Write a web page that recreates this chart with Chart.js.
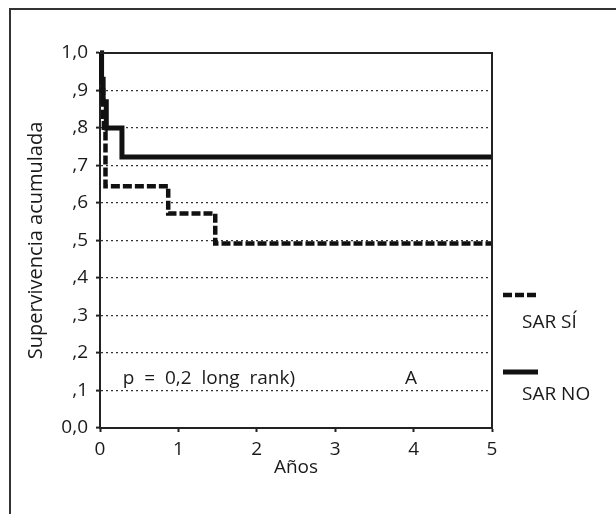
<!DOCTYPE html>
<html>
<head>
<meta charset="utf-8">
<script src="https://cdn.jsdelivr.net/npm/chart.js@4"></script>
<style>
  body { margin: 0; background: #fff; }
  #marco { position: absolute; left: 9px; top: 8px; width: 620px; height: 520px;
           border-top: 2px solid #333; border-left: 2px solid #333; }
  #grafico { position: absolute; left: 0; top: 0; }
</style>
</head>
<body>
<div id="marco"></div>
<canvas id="grafico" width="616" height="514"></canvas>
<script>
// Supervivencia acumulada (Kaplan-Meier), tiempo en años
var tiemposSi = [0, 0.02, 0.04, 0.05, 0.07, 0.87, 1.47, 5];
var survSi    = [1.0, 0.90, 0.83, 0.79, 0.645, 0.572, 0.492, 0.492];
var tiemposNo = [0, 0.02, 0.04, 0.08, 0.28, 5];
var survNo    = [1.0, 0.93, 0.87, 0.80, 0.723, 0.723];
var etiquetasY = ["0,0", ",1", ",2", ",3", ",4", ",5", ",6", ",7", ",8", ",9", "1,0"];
var etiquetasX = ["0", "1", "2", "3", "4", "5"];

var FUENTE = "'Open Sans', 'Noto Sans', sans-serif";
var TINTA = "#1a1a1a";

function puntos(xs, ys) {
  var out = [];
  for (var i = 0; i < xs.length; i++) out.push({x: xs[i], y: ys[i]});
  return out;
}

var extras = {
  id: "extras",
  afterDatasetsDraw: function(chart) {
    var ctx = chart.ctx, a = chart.chartArea;
    var sx = chart.scales.x, sy = chart.scales.y;
    ctx.save();
    // borde superior y derecho
    ctx.strokeStyle = "#222";
    ctx.lineWidth = 2;
    ctx.beginPath();
    ctx.moveTo(a.left, a.top);
    ctx.lineTo(a.right, a.top);
    ctx.lineTo(a.right, a.bottom);
    ctx.stroke();

    ctx.fillStyle = TINTA;
    ctx.font = "19px " + FUENTE;
    ctx.textBaseline = "middle";
    ctx.textAlign = "left";
    ctx.fillText("p  =  0,2  long  rank)", sx.getPixelForValue(0.29), sy.getPixelForValue(0.133));
    ctx.fillText("A", sx.getPixelForValue(3.89), sy.getPixelForValue(0.133));

    // leyenda
    ctx.strokeStyle = "#111";
    ctx.lineWidth = 4.5;
    ctx.setLineDash([9, 3]);
    ctx.beginPath();
    ctx.moveTo(503, 295); ctx.lineTo(538, 295);
    ctx.stroke();
    ctx.setLineDash([]);
    ctx.lineWidth = 5;
    ctx.beginPath();
    ctx.moveTo(503, 372); ctx.lineTo(538, 372);
    ctx.stroke();
    ctx.fillText("SAR SÍ", 522, 323);
    ctx.fillText("SAR NO", 522, 395);
    ctx.restore();
  }
};

new Chart(document.getElementById("grafico"), {
  type: "line",
  data: {
    datasets: [
      {
        label: "SAR SÍ",
        data: puntos(tiemposSi, survSi),
        stepped: true,
        borderColor: "#111",
        borderWidth: 4.5,
        borderDash: [9, 3],
        pointRadius: 0,
        fill: false,
        clip: 6
      },
      {
        label: "SAR NO",
        data: puntos(tiemposNo, survNo),
        stepped: true,
        borderColor: "#111",
        borderWidth: 5,
        pointRadius: 0,
        fill: false,
        clip: 6
      }
    ]
  },
  options: {
    responsive: false,
    animation: false,
    layout: { padding: { top: 53, right: 124, left: 0, bottom: 0 } },
    plugins: { legend: { display: false }, tooltip: { enabled: false } },
    scales: {
      x: {
        type: "linear",
        min: 0, max: 5,
        afterFit: function(s) { s.height = 86; },
        ticks: {
          stepSize: 1,
          padding: 6,
          color: TINTA,
          font: { family: FUENTE, size: 19 },
          callback: function(v, i) { return etiquetasX[i]; }
        },
        grid: { drawOnChartArea: false, tickLength: 4, tickColor: "#222", tickWidth: 2 },
        border: { color: "#222", width: 2 },
        title: {
          display: true,
          text: "Años",
          color: TINTA,
          font: { family: FUENTE, size: 19 },
          padding: { top: 0, bottom: 35 }
        }
      },
      y: {
        min: 0, max: 1,
        afterFit: function(s) { s.width = 100; },
        ticks: {
          stepSize: 0.1,
          padding: 8,
          color: TINTA,
          font: { family: FUENTE, size: 19 },
          callback: function(v, i) { return etiquetasY[i]; }
        },
        grid: {
          color: function(c) {
            var v = c.tick ? c.tick.value : 0;
            return (v < 0.05 || v > 0.95) ? "rgba(0,0,0,0)" : "#333";
          },
          lineWidth: 1.2,
          tickLength: 4,
          tickColor: "#222",
          tickWidth: 2
        },
        border: { color: "#222", width: 2, dash: [2, 3] },
        title: {
          display: true,
          text: "Supervivencia acumulada",
          color: TINTA,
          font: { family: FUENTE, size: 20 },
          padding: { top: 24, bottom: 0 }
        }
      }
    }
  },
  plugins: [extras]
});
</script>
</body>
</html>
